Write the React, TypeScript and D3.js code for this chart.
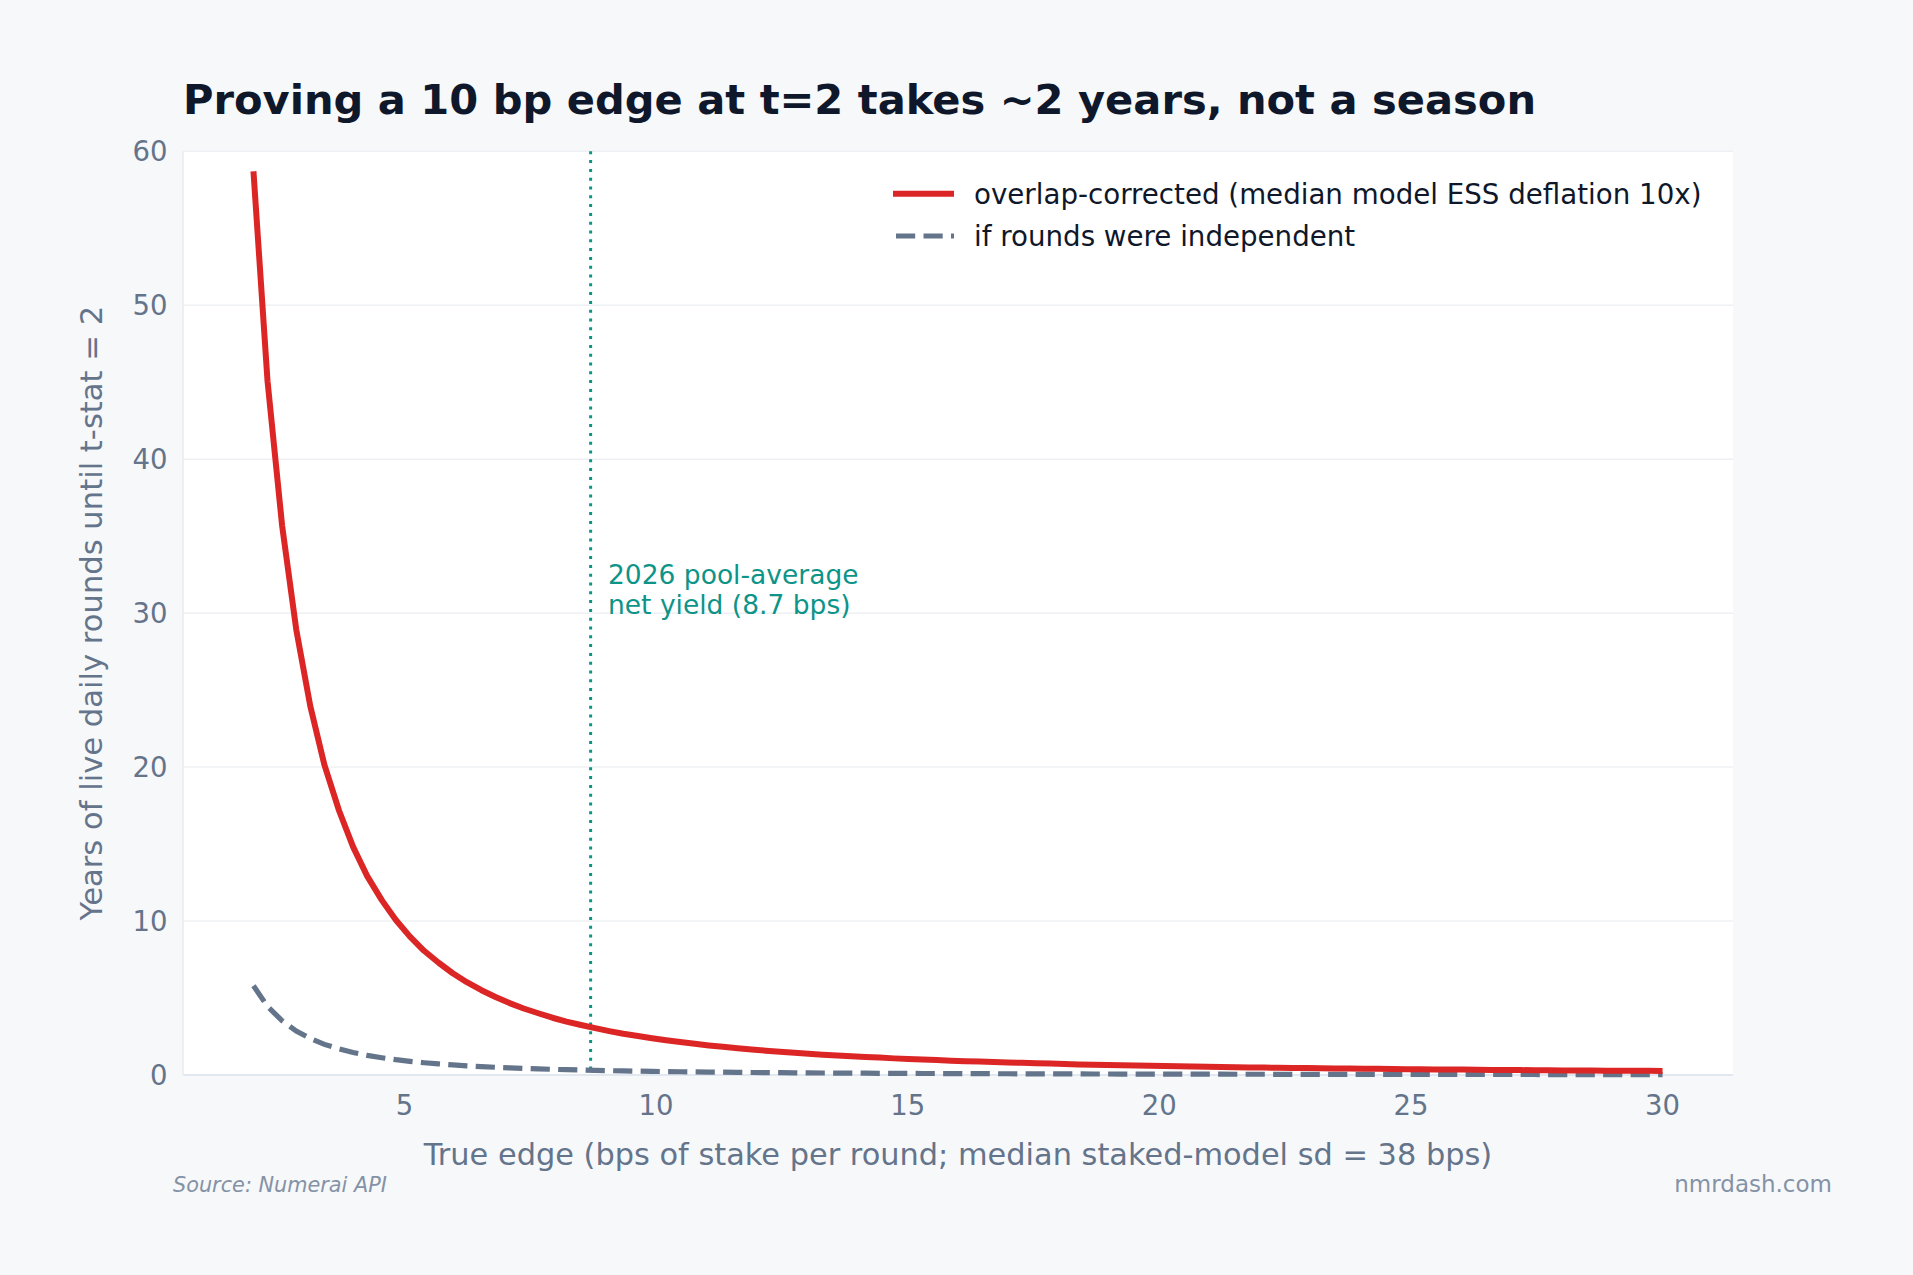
import React, { useEffect } from "react";
import * as d3 from "d3";

const edgeBps = [
  2.0, 2.28, 2.57, 2.85, 3.13, 3.41, 3.7, 3.98, 4.26, 4.55,
  4.83, 5.11, 5.39, 5.68, 5.96, 6.24, 6.53, 6.81, 7.09, 7.37,
  7.66, 7.94, 8.22, 8.51, 8.79, 9.07, 9.35, 9.64, 9.92, 10.2,
  10.48, 10.77, 11.05, 11.33, 11.62, 11.9, 12.18, 12.46, 12.75, 13.03,
  13.31, 13.6, 13.88, 14.16, 14.44, 14.73, 15.01, 15.29, 15.58, 15.86,
  16.14, 16.42, 16.71, 16.99, 17.27, 17.56, 17.84, 18.12, 18.4, 18.69,
  18.97, 19.25, 19.54, 19.82, 20.1, 20.38, 20.67, 20.95, 21.23, 21.52,
  21.8, 22.08, 22.36, 22.65, 22.93, 23.21, 23.49, 23.78, 24.06, 24.34,
  24.63, 24.91, 25.19, 25.47, 25.76, 26.04, 26.32, 26.61, 26.89, 27.17,
  27.45, 27.74, 28.02, 28.3, 28.59, 28.87, 29.15, 29.43, 29.72, 30.0,
];

const overlapYears = [
  58.7, 45.06, 35.67, 28.94, 23.95, 20.14, 17.18, 14.82, 12.92, 11.36,
  10.07, 8.99, 8.07, 7.29, 6.61, 6.03, 5.51, 5.07, 4.67, 4.32,
  4.01, 3.72, 3.47, 3.25, 3.04, 2.85, 2.68, 2.53, 2.39, 2.26,
  2.14, 2.03, 1.92, 1.83, 1.74, 1.66, 1.58, 1.51, 1.44, 1.38,
  1.32, 1.27, 1.22, 1.17, 1.13, 1.08, 1.04, 1.0, 0.97, 0.93,
  0.9, 0.87, 0.84, 0.81, 0.79, 0.76, 0.74, 0.72, 0.69, 0.67,
  0.65, 0.63, 0.62, 0.6, 0.58, 0.57, 0.55, 0.53, 0.52, 0.51,
  0.49, 0.48, 0.47, 0.46, 0.45, 0.44, 0.43, 0.42, 0.41, 0.4,
  0.39, 0.38, 0.37, 0.36, 0.35, 0.35, 0.34, 0.33, 0.32, 0.32,
  0.31, 0.31, 0.3, 0.29, 0.29, 0.28, 0.28, 0.27, 0.27, 0.26,
];

const independentYears = [
  5.8, 4.452, 3.524, 2.859, 2.366, 1.99, 1.697, 1.465, 1.277, 1.123,
  0.995, 0.888, 0.797, 0.72, 0.653, 0.595, 0.545, 0.501, 0.461, 0.427,
  0.396, 0.368, 0.343, 0.321, 0.3, 0.282, 0.265, 0.25, 0.236, 0.223,
  0.211, 0.2, 0.19, 0.181, 0.172, 0.164, 0.156, 0.149, 0.143, 0.137,
  0.131, 0.126, 0.12, 0.116, 0.111, 0.107, 0.103, 0.099, 0.096, 0.092,
  0.089, 0.086, 0.083, 0.08, 0.078, 0.075, 0.073, 0.071, 0.068, 0.066,
  0.064, 0.063, 0.061, 0.059, 0.057, 0.056, 0.054, 0.053, 0.051, 0.05,
  0.049, 0.048, 0.046, 0.045, 0.044, 0.043, 0.042, 0.041, 0.04, 0.039,
  0.038, 0.037, 0.037, 0.036, 0.035, 0.034, 0.033, 0.033, 0.032, 0.031,
  0.031, 0.03, 0.03, 0.029, 0.028, 0.028, 0.027, 0.027, 0.026, 0.026,
];

const xTicks = [5, 10, 15, 20, 25, 30];
const yTicks = [0, 10, 20, 30, 40, 50, 60];
const poolAverageEdge = 8.7;

const titleText = "Proving a 10 bp edge at t=2 takes ~2 years, not a season";
const xLabelText = "True edge (bps of stake per round; median staked-model sd = 38 bps)";
const yLabelText = "Years of live daily rounds until t-stat = 2";
const legendLabels = [
  "overlap-corrected (median model ESS deflation 10x)",
  "if rounds were independent",
];
const annotationLines = ["2026 pool-average", "net yield (8.7 bps)"];

const W = 1913;
const H = 1275;
const plot = { left: 183, right: 1733, top: 151.3, bottom: 1075 };
const FONT = "'DejaVu Sans', sans-serif";

export default function App() {
  useEffect(() => {
    document.body.style.margin = "0";
    document.body.style.overflow = "hidden";
  }, []);

  const x = d3.scaleLinear().domain([0.6, 31.4]).range([plot.left, plot.right]);
  const y = d3.scaleLinear().domain([0, 60]).range([plot.bottom, plot.top]);

  const line = d3
    .line<number>()
    .x((_, i) => x(edgeBps[i]))
    .y((d) => y(d));

  const redPath = line(overlapYears) || "";
  const grayPath = line(independentYears) || "";

  const legendX0 = 893;
  const legendX1 = 954;
  const legendY = [193.7, 236];

  return (
    <svg
      width={W}
      height={H}
      style={{ position: "absolute", left: 0, top: 0, display: "block" }}
      fontFamily={FONT}
    >
      <rect x={0} y={0} width={W} height={H} fill="#f7f8fa" />
      <rect
        x={plot.left}
        y={plot.top}
        width={plot.right - plot.left}
        height={plot.bottom - plot.top}
        fill="#ffffff"
      />
      {yTicks.map((t) => (
        <line
          key={"g" + t}
          x1={plot.left}
          x2={plot.right}
          y1={y(t)}
          y2={y(t)}
          stroke="#eef0f3"
          strokeWidth={1.5}
        />
      ))}
      <line x1={plot.left} x2={plot.left} y1={plot.top} y2={plot.bottom} stroke="#e8ebef" strokeWidth={1.5} />
      <line x1={plot.left} x2={plot.right} y1={plot.bottom} y2={plot.bottom} stroke="#e2e8f0" strokeWidth={2} />

      <line
        x1={x(poolAverageEdge)}
        x2={x(poolAverageEdge)}
        y1={plot.top}
        y2={plot.bottom}
        stroke="#0d9488"
        strokeWidth={3}
        strokeDasharray="3 5.8"
      />

      <path d={grayPath} fill="none" stroke="#64748b" strokeWidth={5.2} strokeDasharray="19.2 8.3" />
      <path d={redPath} fill="none" stroke="#dc2626" strokeWidth={6} strokeLinejoin="round" />

      {annotationLines.map((t, i) => (
        <text key={t} x={608} y={584.3 + i * 29.5} fill="#0d9488" fontSize={26.5}>
          {t}
        </text>
      ))}

      {xTicks.map((t) => (
        <text key={"x" + t} x={x(t)} y={1115.3} textAnchor="middle" fill="#64748b" fontSize={27.5}>
          {t}
        </text>
      ))}
      {yTicks.map((t) => (
        <text key={"y" + t} x={167.5} y={y(t) + 10} textAnchor="end" fill="#64748b" fontSize={27.5}>
          {t}
        </text>
      ))}

      <text x={(plot.left + plot.right) / 2} y={1165} textAnchor="middle" fill="#64748b" fontSize={30.4}>
        {xLabelText}
      </text>
      <text
        transform={`translate(102, ${(plot.top + plot.bottom) / 2}) rotate(-90)`}
        textAnchor="middle"
        fill="#64748b"
        fontSize={30.6}
      >
        {yLabelText}
      </text>

      <text x={183} y={113.5} fill="#0f172a" fontSize={41.6} fontWeight="bold">
        {titleText}
      </text>

      <line x1={legendX0} x2={legendX1} y1={legendY[0]} y2={legendY[0]} stroke="#dc2626" strokeWidth={6} />
      <line
        x1={legendX0 + 3}
        x2={legendX1}
        y1={legendY[1]}
        y2={legendY[1]}
        stroke="#64748b"
        strokeWidth={5.2}
        strokeDasharray="19.2 8.3"
      />
      {legendLabels.map((t, i) => (
        <text key={t} x={974} y={legendY[i] + 10} fill="#0f172a" fontSize={27.7}>
          {t}
        </text>
      ))}

      <text x={173} y={1191.7} fill="#8492a6" fontSize={20.8} fontStyle="italic">
        Source: Numerai API
      </text>
      <text x={1832} y={1191.7} textAnchor="end" fill="#8492a6" fontSize={23}>
        nmrdash.com
      </text>
    </svg>
  );
}
